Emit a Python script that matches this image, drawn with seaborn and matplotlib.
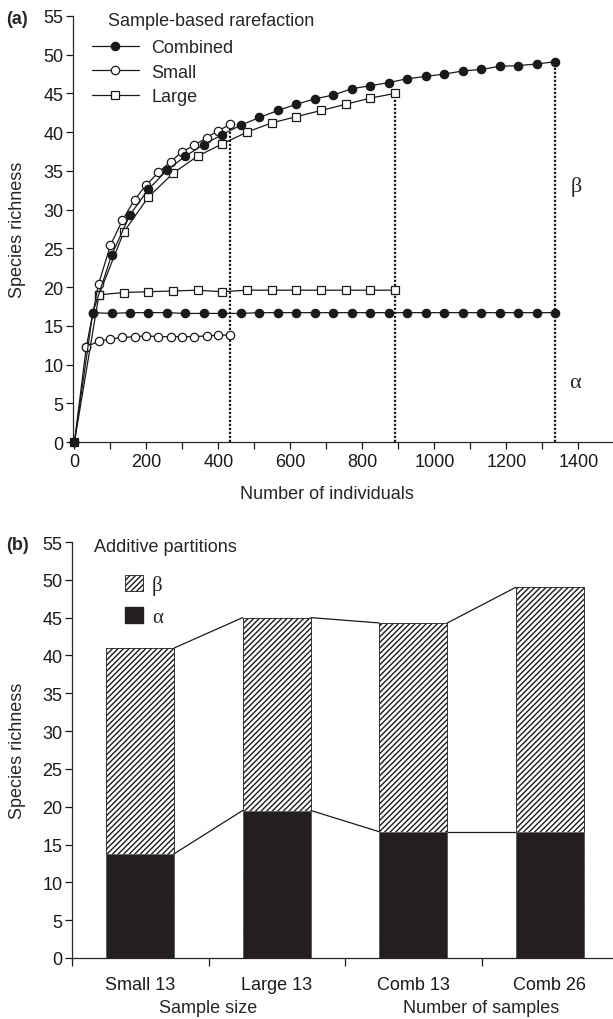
import numpy as np
import pandas as pd
import seaborn as sns
import matplotlib.pyplot as plt
from matplotlib.patches import Patch

# --- panel (a): sample-based rarefaction ---
comb_x = [0, 51, 103, 154, 205, 257, 308, 359, 411, 462, 514, 565, 616, 668,
          719, 770, 822, 873, 924, 976, 1027, 1078, 1130, 1181, 1232, 1284, 1335]
comb_rich = [0, 16.7, 24.1, 29.3, 32.6, 35.1, 36.9, 38.4, 39.7, 40.9, 41.9, 42.8, 43.6, 44.3,
             44.8, 45.6, 46.0, 46.4, 46.9, 47.2, 47.5, 47.9, 48.1, 48.5, 48.6, 48.8, 49.1]
comb_alpha = [16.7, 16.6, 16.7, 16.7, 16.7, 16.6, 16.6, 16.6, 16.6, 16.7, 16.7, 16.7, 16.7,
              16.7, 16.7, 16.7, 16.7, 16.7, 16.7, 16.7, 16.7, 16.7, 16.7, 16.7, 16.7, 16.7]

small_x = [0, 33, 67, 100, 133, 167, 200, 233, 267, 300, 333, 367, 400, 433]
small_rich = [0, 12.3, 20.4, 25.4, 28.6, 31.3, 33.2, 34.8, 36.2, 37.5, 38.3, 39.3, 40.2, 41.0]
small_alpha = [12.3, 13.0, 13.3, 13.5, 13.6, 13.7, 13.6, 13.6, 13.6, 13.6, 13.7, 13.8, 13.8]

large_x = [0, 68, 137, 205, 274, 342, 411, 479, 548, 616, 685, 753, 822, 890]
large_rich = [0, 19.0, 27.1, 31.6, 34.7, 36.9, 38.5, 40.0, 41.2, 42.0, 42.8, 43.6, 44.4, 45.0]
large_alpha = [19.0, 19.3, 19.4, 19.5, 19.6, 19.4, 19.6, 19.6, 19.6, 19.6, 19.6, 19.6, 19.6]

# --- panel (b): additive partitions ---
groups = ['Small 13', 'Large 13', 'Comb 13', 'Comb 26']
gamma_tot = [41.0, 45.0, 44.3, 49.0]
alpha_part = [13.8, 19.5, 16.7, 16.7]

INK = '#1a1a1a'
ALPHA_C = '#231f20'
FS = 13

sns.set_style("ticks")
plt.rcParams['font.family'] = ['Liberation Sans', 'DejaVu Sans']
plt.rcParams['hatch.linewidth'] = 1.0
plt.rcParams['axes.linewidth'] = 0.9

fig = plt.figure(figsize=(6.13, 10.2), dpi=100)
ax1 = fig.add_axes([73 / 613, 577 / 1020, 540 / 613, 426 / 1020])
ax2 = fig.add_axes([72 / 613, 61 / 1020, 546 / 613, 416 / 1020])


def curve(ax, x, y, marker, face, size, label=None):
    sns.lineplot(x=x, y=y, ax=ax, color=INK, lw=0.9, marker=marker, markersize=size,
                 markerfacecolor=face, markeredgecolor=INK, markeredgewidth=0.9,
                 errorbar=None, label=label, clip_on=False, zorder=3)


# dotted drop lines at the end of each curve
ends_x = [small_x[-1], large_x[-1], comb_x[-1]]
ends_y = [small_rich[-1], large_rich[-1], comb_rich[-1]]
ax1.vlines(ends_x, 0, ends_y, colors=INK, linestyles=(0, (1, 0.8)), lw=1.6, zorder=2)

curve(ax1, large_x, large_rich, 's', 'white', 5.5, 'Large')
curve(ax1, large_x[1:], large_alpha, 's', 'white', 5.5)
curve(ax1, small_x, small_rich, 'o', 'white', 6.0, 'Small')
curve(ax1, small_x[1:], small_alpha, 'o', 'white', 6.0)
curve(ax1, comb_x, comb_rich, 'o', INK, 6.0, 'Combined')
curve(ax1, comb_x[1:], comb_alpha, 'o', INK, 6.0)

ax1.set_xlim(-4, 1496)
ax1.set_ylim(0, 55)
ax1.set_xticks(range(0, 1401, 200))
ax1.set_xticks(range(100, 1500, 200), minor=True)
ax1.set_yticks(range(0, 56, 5))
ax1.tick_params(axis='both', which='both', direction='out', length=5, width=0.9,
                labelsize=FS, colors=INK)
ax1.tick_params(axis='x', pad=3)
ax1.tick_params(axis='y', pad=2)
ax1.set_xlabel('')
ax1.set_ylabel('')
sns.despine(ax=ax1)
ax1.annotate('Number of individuals', xy=(700, -0.12), xycoords=('data', 'axes fraction'),
             ha='center', va='center', fontsize=FS)

hd, lb = ax1.get_legend_handles_labels()
order = [lb.index(n) for n in ['Combined', 'Small', 'Large']]
ax1.legend([hd[i] for i in order], [lb[i] for i in order], loc='upper left',
           bbox_to_anchor=(92 / 613, 1 - 40 / 1020), bbox_transform=fig.transFigure,
           frameon=False, fontsize=FS, handlelength=2.6, handletextpad=0.7,
           labelspacing=0.42, borderpad=0, borderaxespad=0, numpoints=1)
fig.text(108 / 613, 1 - 22 / 1020, 'Sample-based rarefaction', fontsize=FS, va='center')
ax1.text(1395, 33.0, 'β', family=['Liberation Serif', 'DejaVu Serif'], fontsize=16,
         ha='center', va='center')
ax1.text(1390, 7.7, 'α', family=['Liberation Serif', 'DejaVu Serif'], fontsize=16,
         ha='center', va='center')

# panel (b): stacked bars drawn as total then alpha on top
df = pd.DataFrame({'group': groups, 'total': gamma_tot, 'alpha': alpha_part})
bar_w = 0.5
sns.barplot(data=df, x='group', y='total', color='white', saturation=1, width=bar_w,
            edgecolor=INK, linewidth=0.6, hatch='//////', ax=ax2, zorder=2)
sns.barplot(data=df, x='group', y='alpha', color=ALPHA_C, saturation=1, width=bar_w,
            edgecolor='#666666', linewidth=0.6, ax=ax2, zorder=3)

half = bar_w / 2
for i in range(len(groups) - 1):
    ax2.plot([i + half, i + 1 - half], [gamma_tot[i], gamma_tot[i + 1]], color=INK, lw=0.9)
    ax2.plot([i + half, i + 1 - half], [alpha_part[i], alpha_part[i + 1]], color=INK, lw=0.9)

ax2.set_xlim(-0.5, 3.5)
ax2.set_ylim(0, 55)
ax2.set_yticks(range(0, 56, 5))
ax2.set_xticks(range(len(groups)), labels=groups)
ax2.set_xticks([-0.5, 0.5, 1.5, 2.5], minor=True)
ax2.tick_params(axis='x', which='major', length=0, pad=13, labelsize=FS, colors=INK)
ax2.tick_params(axis='x', which='minor', direction='out', length=6, width=0.9, colors=INK)
ax2.tick_params(axis='y', direction='out', length=5, width=0.9, pad=2, labelsize=FS, colors=INK)
ax2.set_xlabel('')
ax2.set_ylabel('')
sns.despine(ax=ax2)
ax2.annotate('Sample size', xy=(0.5, -0.118), xycoords=('data', 'axes fraction'),
             ha='center', va='center', fontsize=FS)
ax2.annotate('Number of samples', xy=(2.5, -0.118), xycoords=('data', 'axes fraction'),
             ha='center', va='center', fontsize=FS)

leg_h = [Patch(facecolor='white', edgecolor=INK, hatch='//////', lw=0.6),
         Patch(facecolor=ALPHA_C, edgecolor=ALPHA_C)]
ax2.legend(leg_h, ['β', 'α'], loc='upper left',
           bbox_to_anchor=(125 / 613, 1 - 576 / 1020), bbox_transform=fig.transFigure,
           frameon=False, prop={'family': ['Liberation Serif', 'DejaVu Serif'], 'size': 15},
           handlelength=0.85, handleheight=0.8, handletextpad=0.45, labelspacing=0.55,
           borderpad=0, borderaxespad=0)
fig.text(94 / 613, 1 - 547 / 1020, 'Additive partitions', fontsize=FS, va='center')

# panel letters and shared y labels
fig.text(6 / 613, 1 - 19 / 1020, '(a)', fontsize=FS, fontweight='bold', va='center')
fig.text(6 / 613, 1 - 545 / 1020, '(b)', fontsize=FS, fontweight='bold', va='center')
fig.text(18 / 613, 1 - 230 / 1020, 'Species richness', rotation=90, fontsize=FS,
         ha='center', va='center')
fig.text(18 / 613, 1 - 751 / 1020, 'Species richness', rotation=90, fontsize=FS,
         ha='center', va='center')

fig.savefig('out.png', dpi=100)
